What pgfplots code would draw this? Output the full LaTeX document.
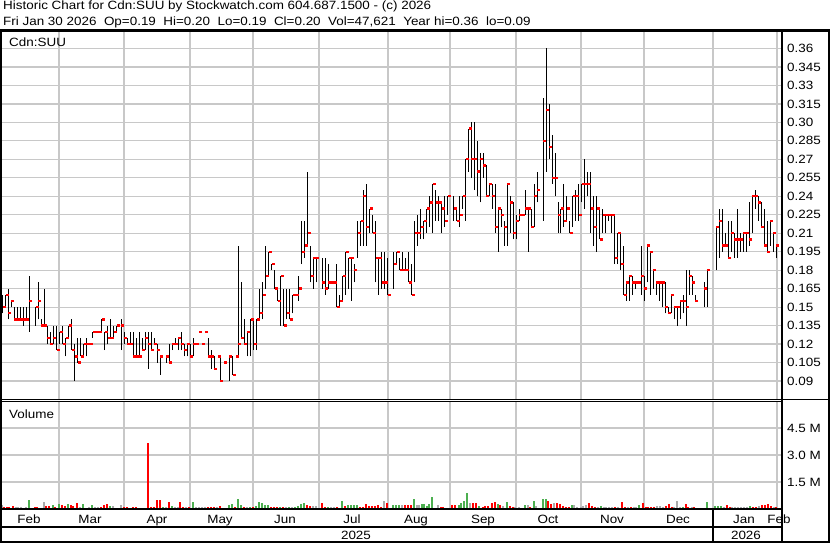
\documentclass[border=0pt]{standalone}
\usepackage{pgfplots}
\pgfplotsset{compat=1.18}
\usepackage{pgfplotstable}
\usepackage{fontspec}
\setmainfont{Liberation Sans}[FakeStretch=1.12]
\definecolor{gridgray}{RGB}{200,200,200}
\definecolor{volgreen}{RGB}{76,175,80}
\definecolor{volred}{RGB}{255,0,0}
\definecolor{volgray}{RGB}{170,170,170}
\newcommand{\cf}{\fontsize{12bp}{14bp}\selectfont}
\tikzset{gl/.style={draw=gridgray, line width=1.2bp}}

% x = horizontal position of the trading day on the chart
\pgfplotstableread{
x hi lo cl
2.7 0.16 0.145 0.15
5.7 0.16 0.15 0.16
8.3 0.165 0.14 0.145
11.3 0.155 0.15 0.155
14.3 0.15 0.14 0.14
17.3 0.15 0.14 0.14
20.3 0.15 0.14 0.14
23.3 0.15 0.135 0.14
26.3 0.15 0.14 0.14
29.3 0.175 0.13 0.155
35.7 0.15 0.135 0.15
38.3 0.17 0.14 0.155
41.3 0.14 0.135 0.135
44.3 0.165 0.135 0.135
47.3 0.135 0.12 0.125
50.3 0.13 0.12 0.12
53.3 0.135 0.12 0.125
56.7 0.135 0.115 0.115
59.7 0.13 0.12 0.13
62.7 0.135 0.12 0.12
65.7 0.125 0.11 0.125
68.7 0.135 0.125 0.135
71.7 0.14 0.115 0.115
74.7 0.12 0.09 0.11
77.7 0.125 0.105 0.105
80.7 0.125 0.11 0.11
83.7 0.12 0.11 0.12
86.7 0.125 0.11 0.12
90.0 0.12 0.12 0.12
92.7 0.13 0.125 0.13
95.7 0.13 0.13 0.13
98.7 0.13 0.13 0.13
101.7 0.14 0.13 0.14
104.7 0.13 0.115 0.13
107.7 0.135 0.12 0.125
110.7 0.14 0.125 0.125
113.7 0.135 0.125 0.13
116.7 0.135 0.13 0.135
121.3 0.14 0.115 0.135
124.3 0.13 0.12 0.125
127.3 0.125 0.12 0.12
130.3 0.13 0.12 0.12
133.3 0.13 0.11 0.11
136.3 0.125 0.11 0.11
139.3 0.13 0.11 0.11
142.3 0.125 0.115 0.115
145.3 0.13 0.115 0.125
148.3 0.13 0.10 0.12
151.3 0.13 0.115 0.115
154.3 0.125 0.12 0.12
157.3 0.12 0.105 0.115
160.3 0.11 0.095 0.11
166.3 0.11 0.105 0.11
169.3 0.12 0.105 0.105
172.3 0.12 0.115 0.12
175.3 0.125 0.12 0.12
178.3 0.125 0.115 0.125
181.3 0.13 0.115 0.12
184.3 0.12 0.11 0.115
187.3 0.12 0.11 0.12
190.3 0.12 0.11 0.11
193.3 0.125 0.11 0.12
196.3 0.12 0.12 0.12
199.3 0.13 0.13 0.13
202.3 0.12 0.12 0.12
205.3 0.13 0.13 0.13
208.3 0.125 0.11 0.11
211.3 0.115 0.10 0.11
214.3 0.11 0.10 0.10
217.7 0.11 0.11 0.11
220.3 0.11 0.09 0.09
223.7 0.105 0.105 0.105
229.3 0.11 0.09 0.11
232.7 0.11 0.095 0.095
235.7 0.11 0.11 0.11
238.3 0.20 0.11 0.12
241.3 0.17 0.125 0.125
244.3 0.14 0.12 0.12
247.3 0.13 0.11 0.13
250.7 0.14 0.11 0.14
253.7 0.14 0.115 0.12
256.7 0.14 0.115 0.14
259.7 0.165 0.14 0.145
262.7 0.17 0.14 0.16
265.7 0.20 0.165 0.175
268.7 0.195 0.175 0.195
271.7 0.185 0.18 0.185
274.7 0.18 0.165 0.165
277.7 0.165 0.155 0.155
280.7 0.175 0.135 0.175
283.7 0.165 0.135 0.135
286.7 0.165 0.14 0.145
289.7 0.165 0.14 0.14
292.7 0.16 0.145 0.16
295.7 0.16 0.16 0.16
298.7 0.175 0.155 0.165
301.7 0.22 0.185 0.195
304.7 0.22 0.19 0.20
307.7 0.26 0.20 0.21
310.7 0.20 0.17 0.175
313.3 0.19 0.165 0.19
316.3 0.19 0.17 0.19
322.3 0.19 0.165 0.17
325.3 0.19 0.16 0.165
328.3 0.185 0.165 0.17
331.3 0.17 0.17 0.17
334.3 0.17 0.17 0.17
336.7 0.185 0.15 0.15
339.7 0.16 0.15 0.155
342.7 0.175 0.155 0.175
345.7 0.195 0.16 0.195
348.7 0.19 0.165 0.19
351.3 0.19 0.155 0.19
354.3 0.185 0.17 0.18
357.7 0.22 0.19 0.21
360.7 0.22 0.20 0.22
363.3 0.245 0.20 0.24
366.3 0.25 0.20 0.215
369.7 0.23 0.21 0.23
372.7 0.225 0.21 0.21
375.7 0.22 0.17 0.19
378.7 0.19 0.16 0.19
381.7 0.195 0.165 0.17
384.7 0.195 0.165 0.17
387.7 0.19 0.16 0.16
393.7 0.195 0.165 0.185
396.7 0.195 0.185 0.195
399.7 0.19 0.18 0.18
402.7 0.195 0.18 0.18
405.7 0.19 0.18 0.18
408.7 0.195 0.17 0.17
411.7 0.185 0.16 0.16
414.7 0.22 0.17 0.21
417.7 0.225 0.20 0.21
420.7 0.23 0.205 0.215
423.7 0.22 0.205 0.22
426.7 0.23 0.21 0.23
429.7 0.24 0.215 0.235
432.7 0.25 0.21 0.25
435.7 0.245 0.22 0.235
438.7 0.24 0.22 0.235
441.7 0.235 0.21 0.23
444.7 0.24 0.215 0.22
447.7 0.24 0.225 0.24
453.7 0.24 0.22 0.23
456.7 0.23 0.22 0.22
459.7 0.24 0.215 0.225
462.7 0.24 0.23 0.24
465.7 0.27 0.22 0.27
468.7 0.295 0.26 0.295
471.3 0.30 0.255 0.27
474.3 0.30 0.245 0.27
477.3 0.285 0.24 0.26
480.3 0.275 0.235 0.27
483.3 0.275 0.255 0.265
486.3 0.265 0.24 0.24
489.3 0.25 0.24 0.25
492.3 0.25 0.23 0.24
495.3 0.25 0.21 0.215
498.3 0.23 0.195 0.23
501.3 0.23 0.215 0.225
504.3 0.22 0.20 0.215
507.3 0.25 0.20 0.25
510.3 0.24 0.21 0.235
513.3 0.235 0.205 0.21
516.3 0.225 0.205 0.22
519.3 0.23 0.22 0.225
522.3 0.225 0.225 0.225
525.3 0.245 0.225 0.23
528.3 0.23 0.195 0.23
531.3 0.23 0.215 0.215
534.3 0.25 0.215 0.24
537.3 0.26 0.235 0.245
543.3 0.32 0.22 0.285
546.3 0.36 0.26 0.31
549.3 0.315 0.27 0.28
552.3 0.29 0.25 0.255
555.3 0.275 0.24 0.255
558.3 0.235 0.21 0.225
560.7 0.23 0.21 0.23
563.7 0.25 0.215 0.22
566.7 0.24 0.22 0.23
569.7 0.22 0.21 0.21
572.7 0.24 0.215 0.24
575.7 0.245 0.22 0.24
578.7 0.25 0.22 0.225
581.7 0.25 0.235 0.25
584.7 0.27 0.23 0.25
587.7 0.26 0.24 0.25
590.7 0.26 0.21 0.23
593.7 0.24 0.20 0.215
596.7 0.24 0.195 0.23
599.7 0.23 0.205 0.205
602.7 0.23 0.21 0.225
605.7 0.225 0.21 0.225
608.7 0.225 0.22 0.225
611.7 0.225 0.21 0.225
614.7 0.225 0.185 0.19
617.7 0.21 0.185 0.21
620.7 0.21 0.18 0.185
623.7 0.20 0.16 0.16
626.3 0.17 0.155 0.17
629.3 0.175 0.155 0.175
632.3 0.175 0.16 0.17
635.3 0.17 0.165 0.17
638.3 0.17 0.17 0.17
641.3 0.20 0.16 0.175
644.3 0.175 0.155 0.165
647.3 0.20 0.17 0.20
650.3 0.195 0.16 0.195
653.3 0.18 0.165 0.18
656.3 0.17 0.16 0.17
659.3 0.17 0.155 0.17
662.3 0.17 0.15 0.17
665.3 0.17 0.145 0.15
668.3 0.15 0.145 0.145
671.3 0.16 0.145 0.16
674.3 0.15 0.14 0.15
677.3 0.15 0.135 0.15
680.3 0.155 0.14 0.155
683.3 0.16 0.145 0.155
686.3 0.18 0.135 0.15
689.3 0.18 0.16 0.175
692.3 0.175 0.16 0.17
695.3 0.16 0.155 0.155
704.3 0.17 0.15 0.165
707.3 0.18 0.15 0.18
716.3 0.215 0.18 0.215
719.3 0.23 0.19 0.22
722.3 0.23 0.195 0.20
725.3 0.21 0.20 0.20
728.3 0.22 0.19 0.19
731.3 0.22 0.195 0.21
734.3 0.21 0.19 0.205
737.3 0.23 0.19 0.205
740.3 0.21 0.195 0.205
743.3 0.21 0.195 0.21
746.3 0.21 0.195 0.21
749.3 0.235 0.20 0.205
752.3 0.24 0.21 0.24
755.3 0.245 0.23 0.24
758.3 0.24 0.22 0.235
761.3 0.235 0.215 0.215
764.3 0.23 0.20 0.20
767.3 0.22 0.195 0.195
770.3 0.22 0.20 0.22
773.3 0.21 0.195 0.21
776.3 0.20 0.19 0.20
}\price

% volume in millions, split by bar colour
\pgfplotstableread{
x v
28.7 0.52
52.7 0.24
58.7 0.30
67.7 0.30
82.7 0.30
91.7 0.22
110.0 0.15
163.3 0.13
172.0 0.15
192.7 0.41
228.7 0.20
231.7 0.26
237.7 0.57
240.7 0.20
249.7 0.13
255.7 0.15
258.7 0.41
261.7 0.31
264.7 0.24
267.7 0.20
279.7 0.13
288.7 0.09
294.7 0.13
297.7 0.17
300.7 0.26
303.7 0.35
327.7 0.13
342.0 0.44
347.7 0.20
350.7 0.20
353.7 0.22
356.7 0.24
392.7 0.24
395.7 0.24
398.7 0.24
413.7 0.57
421.7 0.28
424.3 0.26
427.0 0.19
429.3 0.26
431.7 0.65
458.7 0.24
461.3 0.33
464.3 0.46
467.3 0.91
479.3 0.19
497.7 0.26
506.7 0.41
524.7 0.24
533.7 0.43
542.7 0.57
545.7 0.54
571.7 0.24
600.7 0.19
639.3 0.22
682.7 0.13
706.7 0.41
715.3 0.19
718.0 0.19
720.7 0.19
750.0 0.19
}\volG
\pgfplotstableread{
x v
4.0 0.09
6.7 0.09
9.3 0.09
13.3 0.19
34.7 0.13
37.3 0.13
46.3 0.19
49.0 0.17
55.3 0.09
61.7 0.24
64.7 0.19
70.7 0.24
73.3 0.19
76.7 0.31
101.0 0.13
103.7 0.22
106.7 0.26
124.0 0.13
127.0 0.09
133.0 0.13
135.7 0.09
147.7 3.69
150.7 0.13
153.7 0.13
156.7 0.50
160.0 0.52
169.0 0.41
180.3 0.41
183.3 0.13
189.3 0.09
207.7 0.13
210.7 0.11
213.7 0.09
219.7 0.17
234.7 0.13
243.7 0.13
252.7 0.09
270.7 0.13
273.7 0.09
276.7 0.13
282.7 0.13
306.7 0.20
309.7 0.17
321.7 0.33
324.7 0.09
336.7 0.11
344.7 0.19
359.7 0.09
362.7 0.11
365.7 0.28
368.7 0.17
371.7 0.19
374.7 0.19
377.7 0.20
380.7 0.11
386.7 0.35
404.7 0.20
407.7 0.22
410.7 0.20
435.0 0.07
440.7 0.11
443.3 0.11
446.0 0.06
452.3 0.24
455.0 0.22
473.3 0.31
476.3 0.31
482.7 0.13
485.3 0.15
488.3 0.19
491.7 0.31
494.7 0.37
500.3 0.20
509.7 0.15
512.7 0.11
530.3 0.11
548.3 0.43
551.3 0.30
557.3 0.31
560.0 0.28
562.7 0.19
565.7 0.11
568.7 0.13
589.0 0.35
592.0 0.17
595.0 0.13
615.3 0.13
621.7 0.41
625.0 0.13
630.7 0.13
642.7 0.35
645.7 0.13
648.3 0.13
651.3 0.13
654.3 0.13
666.0 0.19
669.0 0.28
671.7 0.13
685.7 0.30
688.3 0.13
694.3 0.13
726.7 0.24
729.7 0.11
752.7 0.13
755.7 0.13
761.7 0.22
764.7 0.22
767.7 0.28
770.7 0.19
776.0 0.09
}\volR
\pgfplotstableread{
x v
1.7 0.22
16.0 0.11
18.3 0.09
21.0 0.11
23.3 0.07
26.0 0.13
31.7 0.06
40.0 0.07
43.7 0.41
80.0 0.13
85.3 0.07
88.7 0.11
95.0 0.09
98.3 0.11
112.7 0.19
115.7 0.07
121.3 0.24
130.0 0.07
138.7 0.07
141.7 0.07
144.7 0.07
165.7 0.13
175.0 0.13
177.7 0.13
186.0 0.09
195.7 0.09
198.7 0.09
201.7 0.09
204.7 0.09
216.7 0.09
222.7 0.07
225.7 0.07
246.7 0.09
285.7 0.09
291.7 0.09
312.7 0.15
315.7 0.17
330.7 0.09
333.7 0.09
384.0 0.43
401.7 0.20
416.7 0.24
419.0 0.24
437.7 0.24
470.3 0.31
503.3 0.17
515.3 0.13
518.7 0.09
521.7 0.07
527.7 0.20
536.3 0.19
554.3 0.31
574.3 0.24
577.0 0.13
580.7 0.11
583.3 0.19
586.0 0.22
597.7 0.13
603.7 0.13
606.3 0.13
609.3 0.11
612.3 0.13
618.3 0.09
627.7 0.13
633.7 0.09
636.3 0.09
657.3 0.17
660.3 0.19
663.0 0.13
674.3 0.13
677.0 0.46
680.0 0.13
691.7 0.13
723.7 0.13
732.0 0.13
735.0 0.11
738.0 0.11
741.0 0.11
744.0 0.11
747.0 0.13
758.7 0.15
773.7 0.11
}\volY

\pgfplotsset{
  swbase/.style={
    scale only axis, anchor=south west,
    xmin=0, xmax=781,
    axis line style={black, line width=1bp},
    tick style={draw=none},
    xtick=\empty,
    yticklabel pos=right,
    yticklabel style={font=\cf, anchor=west, inner sep=0pt, xshift=6bp},
  },
}

\begin{document}
\begin{tikzpicture}
\coordinate (pSW) at (0bp,143bp);
\coordinate (vSW) at (0bp,34bp);

% price panel
\begin{axis}[swbase,
  at={(pSW)},
  width=781bp, height=368bp,
  ymin=0.07457, ymax=0.3734,
  ytick={0.09,0.105,0.12,0.135,0.15,0.165,0.18,0.195,0.21,0.225,0.24,0.255,0.27,0.285,0.30,0.315,0.33,0.345,0.36},
  yticklabels={0.09,0.105,0.12,0.135,0.15,0.165,0.18,0.195,0.21,0.225,0.24,0.255,0.27,0.285,0.30,0.315,0.33,0.345,0.36},
]
% grid
\pgfplotsinvokeforeach{59,124,190,253,319,388,450,516,581,644,713,777}{
  \draw[gl] (axis cs:#1,0.07457) -- (axis cs:#1,0.3734);}
\pgfplotsinvokeforeach{0.09,0.105,0.12,0.135,0.15,0.165,0.18,0.195,0.21,0.225,0.24,0.255,0.27,0.285,0.30,0.315,0.33,0.345,0.36}{
  \draw[gl] (axis cs:0,#1) -- (axis cs:781,#1);}
% high-low bars and closing ticks
\addplot[draw=none, mark=none, forget plot,
  error bars/.cd, y dir=plus, y explicit, error mark=none,
  error bar style={draw=black, line width=1.25bp}]
  table[x=x, y=lo, y error plus expr=\thisrow{hi}-\thisrow{lo}] {\price};
\addplot[only marks, mark=-, mark size=1.4bp,
  mark options={draw=red, line width=2.3bp, xshift=1.5bp}]
  table[x=x, y=cl] {\price};
\end{axis}

% volume panel
\begin{axis}[swbase,
  at={(vSW)},
  width=781bp, height=107bp,
  ymin=0, ymax=5.944,
  ytick={1.5,3,4.5}, yticklabels={1.5 M,3.0 M,4.5 M},
]
\pgfplotsinvokeforeach{59,124,190,253,319,388,450,516,581,644,713,777}{
  \draw[gl] (axis cs:#1,0) -- (axis cs:#1,5.944);}
\pgfplotsinvokeforeach{1.5,3,4.5}{
  \draw[gl] (axis cs:0,#1) -- (axis cs:781,#1);}
\addplot[ycomb, draw=volgray, line width=2bp, mark=none] table[x=x,y=v] {\volY};
\addplot[ycomb, draw=volgreen, line width=2bp, mark=none] table[x=x,y=v] {\volG};
\addplot[ycomb, draw=volred, line width=2bp, mark=none] table[x=x,y=v] {\volR};
\end{axis}

% texts
\begin{scope}[x=1bp,y=1bp]
\node[anchor=base west, font=\cf, inner sep=0pt] at (3,533) {Historic Chart for Cdn:SUU by Stockwatch.com 604.687.1500 - (c) 2026};
\node[anchor=base west, font=\cf, inner sep=0pt] at (3,517) {Fri Jan 30 2026\ \ Op=0.19\ \ Hi=0.20\ \ Lo=0.19\ \ Cl=0.20\ \ Vol=47,621\ \ Year hi=0.36\ \ lo=0.09};
\node[anchor=base west, font=\cf, inner sep=0pt] at (9,496.5) {Cdn:SUU};
\node[anchor=base west, font=\cf, inner sep=0pt] at (9,125) {Volume};
\foreach \m/\xx in {Feb/29,Mar/90,Apr/157,May/220,Jun/285,Jul/352,Aug/416,Sep/483,Oct/548,Nov/612,Dec/678,Jan/744,Feb/779}
  \node[anchor=base, font=\cf, inner sep=0pt] at (\xx,20) {\m};
\node[anchor=base, font=\cf, inner sep=0pt] at (356,4) {2025};
\node[anchor=base, font=\cf, inner sep=0pt] at (746,4) {2026};

% frame
\draw[line width=2.5bp] (0,512.5) -- (830,512.5);
\draw[line width=2bp] (1,0) -- (1,512.5);
\draw[line width=2bp] (782,0) -- (782,512.5);
\draw[line width=2bp] (829,0) -- (829,512.5);
\draw[line width=1bp] (0,143) -- (830,143);
\draw[line width=1bp] (0,141) -- (782,141);
\draw[line width=2bp] (0,34) -- (782,34);
\draw[line width=2bp] (0,16) -- (782,16);
\draw[line width=2bp] (0,1) -- (830,1);
\draw[line width=2bp] (713,0) -- (713,34);
\end{scope}

\pgfresetboundingbox
\useasboundingbox (0bp,0bp) rectangle (830bp,543bp);
\end{tikzpicture}
\end{document}
